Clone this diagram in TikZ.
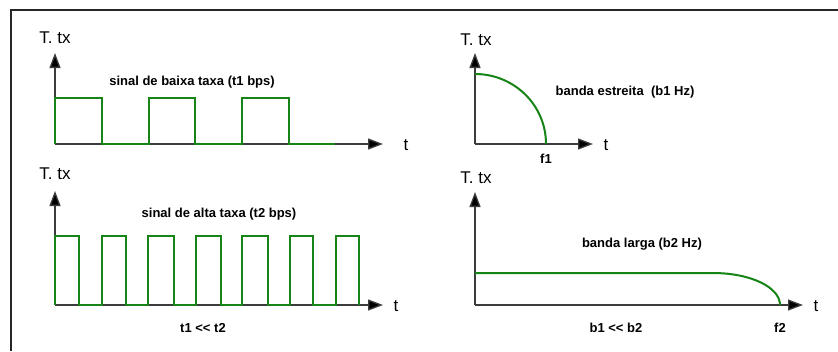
\documentclass[tikz,border=0pt]{standalone}
\usepackage{fontspec}
\setmainfont{Liberation Sans}[Ligatures=NoCommon]
\usetikzlibrary{arrows.meta}
\definecolor{sig}{RGB}{22,132,22}
\definecolor{axisc}{RGB}{60,60,60}
\begin{document}
\begin{tikzpicture}[x=1bp,y=-1bp,
  axis/.style={draw=axisc,line width=1.3bp,-{Triangle[length=15bp,width=11bp,fill=black]}},
  wave/.style={draw=sig,line width=2bp,line join=miter},
  bl/.style={font=\fontsize{13bp}{15bp}\selectfont\bfseries,anchor=base,inner sep=0pt},
  rl/.style={font=\fontsize{17bp}{19bp}\selectfont,anchor=base,inner sep=0pt}]
\useasboundingbox (0,0) rectangle (838,351);
\fill[white] (0,0) rectangle (838,351);
% frame
\draw[line width=2.5bp,black!85] (11,351) -- (11,10) -- (838,10);

% ---------- top-left ----------
\coordinate (o1) at (55,144);
\coordinate (y1) at (55,53);
\coordinate (x1) at (383,144);
\draw[axis] (o1) -- (y1);
\draw[axis] (o1) -- (x1);
\draw[wave] (o1) -- (55,98) -- (102,98) -- (102,144) -- (149,144) -- (149,98)
  -- (195,98) -- (195,144) -- (242,144) -- (242,98) -- (289,98) -- (289,144) -- (335,144);
\node[rl] (ty1) at (55,43) {T. tx};
\node[rl] (tx1) at (406,150) {t};
\node[bl] (l1) at (192,85) {sinal de baixa taxa (t1 bps)};

% ---------- top-right ----------
\coordinate (o2) at (475,144);
\coordinate (y2) at (475,53);
\coordinate (x2) at (593,144);
\draw[axis] (o2) -- (y2);
\draw[axis] (o2) -- (x2);
\draw[wave] (475,74) .. controls (514,74) and (546,105) .. (546,144);
\node[rl] (ty2) at (476,45) {T. tx};
\node[rl] (tx2) at (606,150) {t};
\node[bl] (l2) at (625,95) {banda estreita\ \ (b1 Hz)};
\node[bl] (f1) at (546,163) {f1};

% ---------- bottom-left ----------
\coordinate (o3) at (55,305);
\coordinate (y3) at (55,191);
\coordinate (x3) at (383,305);
\draw[axis] (o3) -- (y3);
\draw[axis] (o3) -- (x3);
\draw[wave] (o3) -- (55,236)
  -- (79,236) -- (79,305) -- (102,305) -- (102,236)
  -- (126,236) -- (126,305) -- (148,305) -- (148,236)
  -- (174,236) -- (174,305) -- (196,305) -- (196,236)
  -- (221,236) -- (221,305) -- (242,305) -- (242,236)
  -- (268,236) -- (268,305) -- (290,305) -- (290,236)
  -- (313,236) -- (313,305) -- (336,305) -- (336,236)
  -- (359,236) -- (359,305);
\node[rl] (ty3) at (55,179.5) {T. tx};
\node[rl] (tx3) at (396,311) {t};
\node[bl] (l3) at (219,217) {sinal de alta taxa (t2 bps)};
\node[bl] (c1) at (203,332) {t1 <{}< t2};

% ---------- bottom-right ----------
\coordinate (o4) at (475,305);
\coordinate (y4) at (475,192);
\coordinate (x4) at (803,305);
\draw[axis] (o4) -- (y4);
\draw[axis] (o4) -- (x4);
\draw[wave] (475,273) -- (713,273) .. controls (750,273) and (780,287) .. (780,305);
\node[rl] (ty4) at (476,183) {T. tx};
\node[rl] (tx4) at (816,311) {t};
\node[bl] (l4) at (642,247) {banda larga (b2 Hz)};
\node[bl] (c2) at (616,332) {b1 <{}< b2};
\node[bl] (f2) at (780,332) {f2};
\end{tikzpicture}
\end{document}
